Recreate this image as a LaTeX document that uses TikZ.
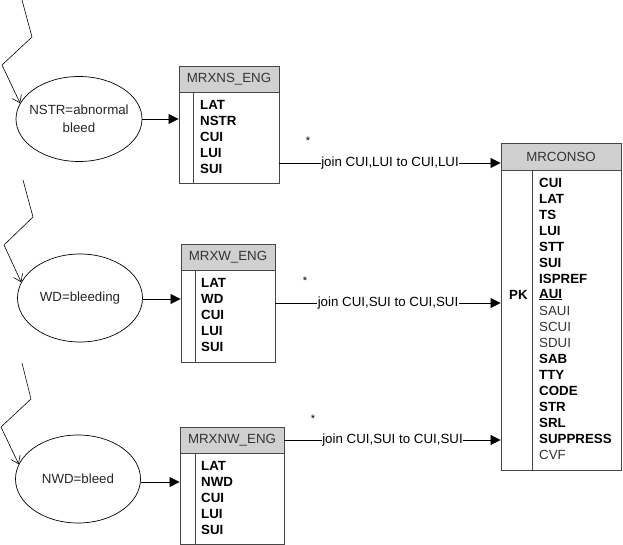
\documentclass[tikz,border=0pt]{standalone}
\usepackage{fontspec}
\setmainfont{Liberation Sans}
\usetikzlibrary{arrows.meta,shapes.geometric}
\definecolor{hdr}{RGB}{208,208,208}
\definecolor{bord}{RGB}{70,70,70}
\begin{document}
\begin{tikzpicture}[x=1pt,y=-1pt,
  every node/.style={font=\fontsize{13.3}{18}\selectfont},
  oval/.style={draw=black,line width=0.7pt,ellipse,inner sep=0pt},
  otext/.style={inner sep=0pt,align=center,text=black!85},
  thead/.style={draw=bord,line width=0.9pt,fill=hdr,minimum height=26pt,inner sep=0pt,text=black!80},
  tbody/.style={draw=bord,line width=0.9pt,inner sep=0pt},
  fld/.style={anchor=west,inner sep=0pt,font=\fontsize{13.3}{16}\selectfont\bfseries},
  nfld/.style={anchor=west,inner sep=0pt,font=\fontsize{13.3}{16}\selectfont,text=black!80},
  conn/.style={line width=0.8pt,-{Triangle[length=10pt,width=10pt]}},
  zig/.style={line width=0.6pt,-{Straight Barb[length=7pt,width=10pt]}},
  lbl/.style={fill=white,inner sep=0.6pt},
  astk/.style={inner sep=0pt,font=\fontsize{11}{12}\selectfont}]
\useasboundingbox (0,0) rectangle (623,545);

% ellipses
\node[oval,minimum width=126pt,minimum height=85pt] (e1) at (79,119) {};
\node[oval,minimum width=125pt,minimum height=88pt] (e2) at (80,298) {};
\node[oval,minimum width=125pt,minimum height=88pt] (e3) at (78,479) {};
\node[otext] (e1t) at (e1.center) {NSTR=abnormal\\bleed};
\node[otext] (e2t) at (e2.center) {WD=bleeding};
\node[otext] (e3t) at (e3.center) {NWD=bleed};

% zigzags
\coordinate (z1a) at (22,0); \coordinate (z1b) at (32,37); \coordinate (z1c) at (2,65);
\coordinate (z2a) at (23,180); \coordinate (z2b) at (33,217); \coordinate (z2c) at (4,245);
\coordinate (z3a) at (22,363); \coordinate (z3b) at (31,399); \coordinate (z3c) at (1,427);
\draw[zig] (z1a) -- (z1b) -- (z1c) -- (e1.165);
\draw[zig] (z2a) -- (z2b) -- (z2c) -- (e2.165);
\draw[zig] (z3a) -- (z3b) -- (z3c) -- (e3.166);

% table 1
\node[thead,minimum width=100pt] (t1h) at (229,79) {MRXNS\_ENG};
\node[tbody,minimum width=100pt,minimum height=91pt] (t1b) at (229,137.5) {};
\draw[bord,line width=0.9pt] ([xshift=15pt]t1b.north west) -- ([xshift=15pt]t1b.south west);
\node[fld] (t1r1) at (200,105) {LAT};
\node[fld] (t1r2) at (200,121) {NSTR};
\node[fld] (t1r3) at (200,137) {CUI};
\node[fld] (t1r4) at (200,153) {LUI};
\node[fld] (t1r5) at (200,169) {SUI};

% table 2
\node[thead,minimum width=94pt] (t2h) at (228,257) {MRXW\_ENG};
\node[tbody,minimum width=94pt,minimum height=92pt] (t2b) at (228,316) {};
\draw[bord,line width=0.9pt] ([xshift=15pt]t2b.north west) -- ([xshift=15pt]t2b.south west);
\node[fld] (t2r1) at (201,283) {LAT};
\node[fld] (t2r2) at (201,299) {WD};
\node[fld] (t2r3) at (201,315) {CUI};
\node[fld] (t2r4) at (201,331) {LUI};
\node[fld] (t2r5) at (201,347) {SUI};

% table 3
\node[thead,minimum width=104pt] (t3h) at (232,440) {MRXNW\_ENG};
\node[tbody,minimum width=104pt,minimum height=91pt] (t3b) at (232,498.5) {};
\draw[bord,line width=0.9pt] ([xshift=16pt]t3b.north west) -- ([xshift=16pt]t3b.south west);
\node[fld] (t3r1) at (201,466) {LAT};
\node[fld] (t3r2) at (201,482) {NWD};
\node[fld] (t3r3) at (201,498) {CUI};
\node[fld] (t3r4) at (201,514) {LUI};
\node[fld] (t3r5) at (201,530) {SUI};

% MRCONSO
\node[thead,minimum width=120pt,minimum height=27pt] (mh) at (561,156.5) {MRCONSO};
\node[tbody,minimum width=120pt,minimum height=300pt] (mb) at (561,320) {};
\draw[bord,line width=0.9pt] ([xshift=32pt]mb.north west) -- ([xshift=32pt]mb.south west);
\node[fld] (pk) at (509,294.5) {PK};
\node[fld]  (m1)  at (539,182.5) {CUI};
\node[fld]  (m2)  at (539,198.5) {LAT};
\node[fld]  (m3)  at (539,214.5) {TS};
\node[fld]  (m4)  at (539,230.5) {LUI};
\node[fld]  (m5)  at (539,246.5) {STT};
\node[fld]  (m6)  at (539,262.5) {SUI};
\node[fld]  (m7)  at (539,278.5) {ISPREF};
\node[fld]  (m8)  at (539,294.5) {\underline{AUI}};
\node[nfld] (m9)  at (539,310.5) {SAUI};
\node[nfld] (m10) at (539,326.5) {SCUI};
\node[nfld] (m11) at (539,342.5) {SDUI};
\node[fld]  (m12) at (539,358.5) {SAB};
\node[fld]  (m13) at (539,374.5) {TTY};
\node[fld]  (m14) at (539,390.5) {CODE};
\node[fld]  (m15) at (539,406.5) {STR};
\node[fld]  (m16) at (539,422.5) {SRL};
\node[fld]  (m17) at (539,438.5) {SUPPRESS};
\node[nfld] (m18) at (539,454.5) {CVF};

% ellipse to table arrows
\draw[conn] (e1.east) -- (e1.east -| t1b.west);
\draw[conn] (e2.east |- 0,299) -- (t2b.west |- 0,299);
\draw[conn] (e3.east |- 0,482) -- (t3b.west |- 0,482);

% joins
\draw[conn] (t1b.east |- 0,163) -- node[lbl] (j1) {join CUI,LUI to CUI,LUI} (mh.west |- 0,163);
\draw[conn] (t2b.east |- 0,303) -- node[lbl] (j2) {join CUI,SUI to CUI,SUI} (mb.west |- 0,303);
\draw[conn] (t3h.east |- 0,440) -- node[lbl] (j3) {join CUI,SUI to CUI,SUI} (mb.west |- 0,440);

% stars
\node[astk] (s1) at (308,141) {*};
\node[astk] (s2) at (305,281) {*};
\node[astk] (s3) at (313,419) {*};
\end{tikzpicture}
\end{document}
